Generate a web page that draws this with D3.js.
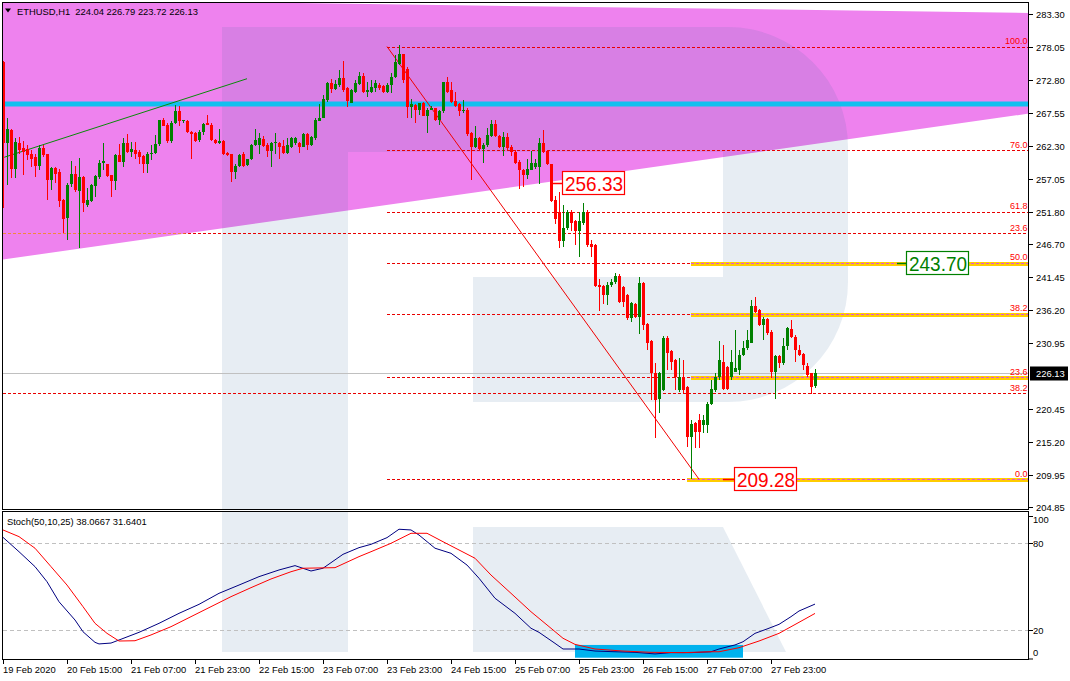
<!DOCTYPE html>
<html><head><meta charset="utf-8">
<script src="https://cdn.jsdelivr.net/npm/d3@7"></script>
<style>
body{margin:0;background:#fff;}
svg{display:block;}
text{font-family:"Liberation Sans",Arial,sans-serif;white-space:pre;}
</style>
</head><body>
<svg id="c" width="1070" height="681"></svg>
<script>
// ---------------- DATA ----------------
const symbolTitle = "ETHUSD,H1  224.04 226.79 223.72 226.13";
const stochTitle = "Stoch(50,10,25) 38.0667 31.6401";

const barOpen = [
275.7,262.7,264.8,258.6,262.7,261.9,261.8,261.0,260.5,259.1,
262.0,261.0,256.9,258.8,258.1,253.7,250.9,256.2,257.8,255.2,
257.4,252.9,253.6,256.0,257.4,259.6,259.4,257.7,256.8,260.9,
259.8,262.7,261.4,261.7,261.4,260.7,259.4,261.1,261.2,262.6,
266.4,265.7,263.1,265.9,267.8,266.2,266.3,264.6,264.4,263.3,
264.6,266.0,265.7,263.3,262.7,263.1,261.2,261.0,258.2,259.1,
261.1,259.3,260.2,262.5,262.4,263.4,262.4,261.5,262.8,262.8,
262.3,261.2,262.2,262.8,262.7,262.2,264.2,262.4,263.5,266.3,
266.8,269.6,272.3,271.3,272.0,273.1,271.6,269.2,270.9,272.2,
273.4,270.9,270.9,271.6,272.0,271.8,270.9,272.0,273.3,275.4,
276.9,274.6,268.5,268.8,268.0,269.2,267.1,268.1,268.3,266.5,
267.8,272.4,271.2,269.5,269.0,267.8,268.0,264.4,262.2,263.5,
261.8,262.4,263.9,265.8,263.9,262.2,263.8,262.2,261.4,259.8,
258.5,257.7,258.5,258.9,258.9,262.7,261.5,259.4,253.7,251.8,
247.1,249.2,251.8,250.3,248.7,250.1,251.8,246.7,246.5,240.2,
240.0,238.6,240.2,240.6,241.6,239.9,238.6,234.9,237.2,235.1,
240.5,233.9,231.2,226.1,222.0,223.5,231.7,229.6,228.2,223.5,
225.6,224.0,216.0,218.2,218.7,217.9,217.9,221.3,223.5,225.6,
228.0,227.2,225.6,226.4,226.6,229.0,230.1,231.0,236.8,236.2,
233.8,234.7,232.7,226.4,228.8,227.7,230.4,233.1,231.9,229.8,
229.2,227.3,226.1,224.04];
const barHigh = [
275.8,266.7,265.0,263.6,263.7,263.1,262.5,261.7,261.1,262.5,
262.5,261.1,259.0,259.0,258.7,253.8,256.4,259.9,259.1,260.4,
257.5,255.6,256.2,257.7,260.1,262.7,259.5,257.7,261.0,262.6,
263.5,264.2,262.9,263.0,261.7,260.9,261.4,262.5,264.0,266.5,
266.7,265.9,266.2,268.8,268.7,266.5,266.5,264.7,264.5,264.8,
266.0,267.3,266.0,263.4,265.0,263.2,261.3,261.1,259.4,261.0,
261.3,260.3,262.6,265.0,264.3,263.9,262.7,263.0,264.4,263.0,
263.3,263.5,263.7,263.7,263.0,264.3,264.3,263.9,266.7,269.0,
270.4,272.5,272.9,272.8,274.4,275.9,271.7,271.3,272.8,274.0,
273.9,272.5,272.8,272.8,272.3,272.0,272.3,273.9,276.8,278.4,
277.0,274.9,269.7,269.0,269.2,269.3,268.4,268.7,268.4,268.0,
272.5,273.2,272.5,270.9,269.1,269.6,268.3,264.6,265.4,263.8,
262.7,265.1,266.5,266.5,264.0,264.6,264.3,262.4,261.7,260.0,
258.6,260.3,261.5,260.2,263.5,264.8,261.6,259.5,254.3,255.0,
252.9,252.1,252.1,250.5,251.8,253.2,252.1,247.4,246.7,241.2,
240.2,240.6,241.2,242.1,242.0,240.0,238.7,237.5,237.3,241.5,
240.7,234.1,231.4,227.7,226.3,232.0,232.0,229.8,228.4,228.5,
228.2,224.1,218.7,218.4,219.7,219.5,221.6,225.1,226.1,231.2,
230.6,227.3,229.8,233.0,229.8,231.2,233.0,237.8,238.3,236.3,
235.1,234.9,233.0,229.0,229.0,231.7,233.5,234.6,232.2,230.6,
229.3,227.7,226.2,226.79];
const barLow = [
252.4,256.1,257.2,257.2,261.1,257.7,260.1,259.0,257.4,258.4,
260.6,253.7,255.3,256.4,252.6,248.4,247.3,255.8,255.0,246.0,
251.8,252.6,253.4,254.2,257.1,258.5,257.4,254.2,255.3,259.7,
259.0,261.2,260.6,260.3,259.5,258.0,258.0,260.1,261.0,262.3,
265.4,262.7,262.8,265.8,265.4,266.0,264.4,260.2,262.9,263.0,
264.0,265.6,263.1,262.6,262.6,260.9,260.7,256.6,257.0,258.9,
258.9,259.1,260.0,262.3,261.1,262.2,260.6,259.0,261.1,260.3,
261.1,261.1,261.9,262.4,261.2,262.1,261.6,262.3,263.3,266.2,
266.7,269.3,270.7,271.2,271.7,270.9,268.5,269.1,270.7,272.0,
270.7,270.1,270.7,270.9,271.2,270.7,270.7,270.7,273.1,275.2,
272.3,266.7,266.8,266.0,267.2,267.0,264.3,268.0,266.3,265.6,
267.5,270.7,269.1,268.5,267.1,267.5,263.9,256.9,261.9,261.5,
259.6,262.2,263.7,263.8,261.9,260.7,261.7,260.7,259.5,255.4,
255.8,257.0,258.4,258.7,256.2,261.2,259.3,253.4,249.9,246.0,
246.3,249.0,248.7,246.5,244.7,249.7,246.3,244.7,239.9,236.1,
237.2,237.0,239.9,240.4,237.3,236.7,234.6,234.3,234.9,232.4,
233.0,229.8,221.9,215.8,219.75,223.3,226.6,226.6,223.5,223.2,
223.0,214.4,209.3,214.2,214.2,216.6,216.6,221.1,223.2,225.1,
223.5,223.5,225.1,226.4,225.9,228.9,229.8,230.9,235.7,233.6,
231.4,232.2,225.3,222.1,226.9,227.4,229.8,231.8,228.0,228.8,
226.6,225.6,222.9,223.72];
const barClose = [
262.7,265.0,258.6,263.0,261.6,261.4,260.9,260.2,259.1,262.0,
260.9,256.9,258.8,257.8,253.5,250.7,256.1,257.8,255.3,257.3,
253.2,253.7,256.1,257.5,259.6,259.9,257.5,256.8,260.9,259.8,
262.7,261.4,261.8,261.1,260.6,259.4,261.1,261.2,262.6,266.4,
265.5,263.1,265.9,267.8,266.2,266.4,264.6,264.2,263.1,264.6,
265.8,265.7,263.3,262.8,263.1,261.0,260.9,258.2,259.1,260.9,
259.1,260.2,262.5,263.3,263.5,262.3,261.5,262.8,262.9,262.2,
261.2,262.4,263.5,263.5,262.2,264.2,262.4,263.8,266.4,266.8,
269.7,272.3,271.3,272.1,273.1,271.2,269.4,271.2,272.3,273.4,
270.9,271.2,271.7,272.3,271.5,270.9,272.0,273.3,275.7,276.9,
272.8,268.5,269.0,268.0,269.1,267.1,268.1,268.4,266.5,267.8,
272.4,270.9,269.3,268.7,267.8,268.1,264.2,262.2,263.5,261.8,
262.4,264.0,265.8,263.9,262.2,263.8,261.9,261.4,259.6,258.4,
257.7,258.6,259.6,259.6,262.7,261.4,259.4,253.6,250.6,247.1,
249.2,251.8,250.1,248.7,250.3,251.8,246.5,246.3,240.0,239.9,
238.6,240.2,240.7,241.6,237.5,237.5,234.9,237.3,235.1,240.5,
233.8,231.0,226.1,221.9,226.1,231.8,229.4,228.0,225.6,225.6,
223.5,216.0,218.05,216.8,216.8,218.7,221.3,223.7,225.6,228.2,
223.7,223.7,228.0,226.9,229.0,230.1,231.4,236.8,235.9,233.8,
234.7,232.5,226.4,228.8,227.7,230.4,233.3,231.9,229.8,229.0,
227.4,225.9,224.0,226.13];

// stochastic (bar index, value)
const stochK = [[0,84.1],[4,74.2],[8,63.9],[11,53.5],[14,39.7],[18,27.1],[20,19.0],[23,11.7],[24,10.6],[27,11.2],[29,13.3],[34,18.6],[39,24.8],[44,31.7],[49,37.9],[54,45.5],[59,51.2],[64,57.0],[69,61.6],[73,64.6],[77,60.9],[80,62.8],[85,72.4],[89,77.0],[92,79.3],[96,83.9],[99,89.7],[102,89.2],[104,85.7],[108,76.6],[112,73.1],[116,65.0],[119,55.9],[123,42.1],[128,31.7],[132,21.4],[134,18.6],[138,11.0],[140,7.1],[144,7.1],[148,5.7],[153,5.2],[158,4.8],[163,3.7],[167,4.6],[172,4.6],[177,5.2],[179,7.1],[183,9.9],[185,12.1],[188,17.9],[191,20.9],[194,24.1],[197,29.4],[199,33.3],[203,38.07]];
const stochD = [[0,89.2],[4,84.6],[8,76.6],[12,63.9],[16,51.2],[20,36.3],[23,24.8],[26,17.9],[29,12.6],[33,12.8],[37,16.8],[42,22.5],[47,29.4],[52,36.3],[57,43.2],[62,49.4],[67,55.4],[72,60.4],[75,62.8],[83,63.2],[89,70.8],[92,74.2],[97,80.0],[102,86.9],[106,86.9],[110,81.1],[114,75.4],[118,69.7],[122,58.1],[127,45.5],[132,32.8],[137,21.4],[140,14.5],[143,10.3],[148,7.1],[155,5.7],[162,4.8],[170,4.6],[177,5.2],[179,5.2],[184,8.0],[189,12.6],[194,17.9],[199,25.5],[203,31.64]];
const stochLevels = [80, 20];
const stochTicks = [100, 80, 20, 0];
const stochBox = [143, 185, 1.1, 9.9];   // bar from, bar to, value low, value high

const priceTicks = [283.30,278.05,272.80,267.55,262.30,257.05,251.80,246.70,241.45,236.20,230.95,220.45,215.20,209.95,204.85];
const lastPrice = 226.13;
const dateLabels = ["19 Feb 2020","20 Feb 15:00","21 Feb 07:00","21 Feb 23:00","22 Feb 15:00","23 Feb 07:00","23 Feb 23:00","24 Feb 15:00","25 Feb 07:00","25 Feb 23:00","26 Feb 15:00","27 Feb 07:00","27 Feb 23:00"];
const dateLabelBars = [0,16,32,48,64,80,96,112,128,144,160,176,192];

// chart objects (bar index, price)
const pinkTriangle = [[0,285.69],[256.5,283.46],[256.5,267.46],[0,244.23]];
const blueLevel = 268.98;
const greenTrend = [[0.3,260.5],[61,273.0]];
const fibHigh = 278.12, fibLow = 209.28;
const fibStartBar = 96, fibEndBar = 174;
const fibRatios = [100.0, 76.0, 61.8, 50.0, 38.2, 23.6, 0.0];
const fib2Labels = ["23.6","38.2"];
const fib2Prices = [248.45, 222.99];
const yellowRatios = [50.0, 38.2, 23.6, 0.0];
const yellowStartBars = [172, 172, 172, 171];
const boxTexts = ["256.33","243.70","209.28"];
const boxPrices = [256.33, 243.70, 209.28];
const boxBars = [139.75, 225.75, 182.75];
const boxLineBars = [137, 223.5, 180];
const boxColors = ["#ff0000","#008000","#ff0000"];

// ---------------- DRAW ----------------
const svg = d3.select("#c");
const X0 = 3, X1 = 1029, MT = 3, MB = 509, ST = 512, SB = 659;
const x = d3.scaleLinear().domain([0, 256.5]).range([X0, X1]);
const y = d3.scaleLinear().domain([204.85, 283.30]).range([507, 14]);
const ys = d3.scaleLinear().domain([0, 100]).range([659.3, 514.3]);
const fibPrice = r => fibLow + r / 100 * (fibHigh - fibLow);

const defs = svg.append("defs");
defs.append("clipPath").attr("id","cm").append("rect").attr("x",X0).attr("y",MT).attr("width",X1-X0).attr("height",MB-MT);
defs.append("clipPath").attr("id","cs").append("rect").attr("x",X0).attr("y",ST).attr("width",X1-X0).attr("height",SB-ST);
defs.append("clipPath").attr("id","ctri").append("polygon")
  .attr("points", pinkTriangle.map(p => [x(p[0]), y(p[1])].join(",")).join(" "));

svg.append("rect").attr("width",1070).attr("height",681).attr("fill","#fff");

const gm = svg.append("g").attr("clip-path","url(#cm)");
const gs = svg.append("g").attr("clip-path","url(#cs)");

// pink triangle
gm.append("polygon").attr("points", pinkTriangle.map(p => [x(p[0]), y(p[1])].join(",")).join(" "))
  .attr("fill","#ee82ee");

// watermark (decorative)
const wm = "rgba(60,110,160,0.12)";
gm.append("path").attr("fill", wm)
  .attr("d","M222,27 L728,27 A120,120 0 0 1 848,147 L848,282 A120,120 0 0 1 728,402 L473,402 L473,277 L723,277 L723,152 L348,152 L348,509 L222,509 Z");
gs.append("rect").attr("x",222).attr("y",512).attr("width",126).attr("height",140).attr("fill",wm);
gs.append("polygon").attr("points","473,527 723,527 786,652 473,652").attr("fill",wm);

// blue horizontal level
gm.append("line").attr("x1",X0).attr("x2",X1).attr("y1",y(blueLevel)).attr("y2",y(blueLevel))
  .attr("stroke","#12bfef").attr("stroke-width",5);

// current price line
gm.append("line").attr("x1",X0).attr("x2",X1).attr("y1",Math.round(y(lastPrice))+0.5).attr("y2",Math.round(y(lastPrice))+0.5)
  .attr("stroke","#c0c0c0").attr("stroke-width",1);

// fib levels (set 1)
const fibRed = "#e80000";
fibRatios.forEach(r => {
  const yy = Math.round(y(fibPrice(r))) + 0.5;
  gm.append("line").attr("x1",x(fibStartBar)).attr("x2",X1).attr("y1",yy).attr("y2",yy)
    .attr("stroke",fibRed).attr("stroke-dasharray","3,2");
});
// fib set 2
fib2Prices.forEach(p => {
  const yy = Math.round(y(p)) + 0.5;
  gm.append("line").attr("x1",X0).attr("x2",X1).attr("y1",yy).attr("y2",yy)
    .attr("stroke",fibRed).attr("stroke-dasharray","3,2");
  gm.append("line").attr("x1",X0).attr("x2",X1).attr("y1",yy).attr("y2",yy)
    .attr("stroke","#f08a3c").attr("stroke-dasharray","3,2").attr("clip-path","url(#ctri)");
});
// yellow highlighted levels
yellowRatios.forEach((r,k) => {
  const yy = Math.round(y(fibPrice(r))) + 0.5;
  gm.append("rect").attr("x",x(yellowStartBars[k])).attr("width",X1-x(yellowStartBars[k]))
    .attr("y",yy-2).attr("height",4).attr("fill","#ffcc00").attr("shape-rendering","crispEdges");
  gm.append("line").attr("x1",x(yellowStartBars[k])).attr("x2",X1).attr("y1",yy).attr("y2",yy)
    .attr("stroke","#e050e0").attr("stroke-dasharray","3,2").attr("shape-rendering","crispEdges");
});

// green trend line
gm.append("line").attr("x1",x(greenTrend[0][0])).attr("y1",y(greenTrend[0][1]))
  .attr("x2",x(greenTrend[1][0])).attr("y2",y(greenTrend[1][1]))
  .attr("stroke","#0a8a0a").attr("stroke-width",1);
// red diagonal of fib
gm.append("line").attr("x1",x(fibStartBar)).attr("y1",y(fibHigh))
  .attr("x2",x(fibEndBar)).attr("y2",y(fibLow))
  .attr("stroke","#f00000").attr("stroke-width",1);

// candles
const bars = d3.range(barOpen.length);
const cg = gm.append("g").attr("shape-rendering","crispEdges");
cg.selectAll(".wick").data(bars).join("rect")
  .attr("x", i => Math.round(x(i)))
  .attr("width",1)
  .attr("y", i => Math.round(y(barHigh[i])))
  .attr("height", i => Math.max(1, Math.round(y(barLow[i])) - Math.round(y(barHigh[i]))))
  .attr("fill", i => barClose[i] >= barOpen[i] ? "#008000" : "#ff0000");
cg.selectAll(".body").data(bars).join("rect")
  .attr("x", i => Math.round(x(i)) - 1)
  .attr("width",3)
  .attr("y", i => Math.round(y(Math.max(barOpen[i],barClose[i]))))
  .attr("height", i => Math.max(1, Math.round(y(Math.min(barOpen[i],barClose[i]))) - Math.round(y(Math.max(barOpen[i],barClose[i])))))
  .attr("fill", i => barClose[i] >= barOpen[i] ? "#008000" : "#ff0000");

// fib labels
fibRatios.forEach(r => {
  gm.append("text").attr("x",1027.5).attr("y",y(fibPrice(r)) - 2.5).attr("text-anchor","end")
    .attr("font-size","9px").attr("fill","#ff0000").text(r.toFixed(1));
});
fib2Prices.forEach((p,k) => {
  gm.append("text").attr("x",1027.5).attr("y",y(p) - 2.5).attr("text-anchor","end")
    .attr("font-size","9px").attr("fill","#ff0000").text(fib2Labels[k]);
});

// boxed price labels
boxTexts.forEach((t,k) => {
  const yy = Math.round(y(boxPrices[k]));
  const bx = Math.round(x(boxBars[k]));
  gm.append("line").attr("x1",x(boxLineBars[k])).attr("x2",bx).attr("y1",yy+0.5).attr("y2",yy+0.5)
    .attr("stroke",boxColors[k]).attr("stroke-width",1.5);
  gm.append("rect").attr("x",bx+0.5).attr("y",yy-11.5).attr("width",62).attr("height",23)
    .attr("fill","#fff").attr("stroke",boxColors[k]).attr("stroke-width",1.2);
  gm.append("text").attr("x",bx+3).attr("y",yy+8).attr("font-size","21px")
    .attr("textLength",58).attr("lengthAdjust","spacingAndGlyphs")
    .attr("fill",boxColors[k]).text(t);
});

// stochastic
stochLevels.forEach(v => {
  gs.append("line").attr("x1",X0).attr("x2",X1).attr("y1",Math.round(ys(v))+0.5).attr("y2",Math.round(ys(v))+0.5)
    .attr("stroke","#c0c0c0").attr("stroke-dasharray","4,3");
});
gs.append("rect").attr("x",x(stochBox[0])).attr("width",x(stochBox[1])-x(stochBox[0]))
  .attr("y",ys(stochBox[3])).attr("height",ys(stochBox[2])-ys(stochBox[3])).attr("fill","#00b2ee");
const sline = d3.line().x(d => x(d[0])).y(d => ys(d[1]));
gs.append("path").datum(stochK).attr("d",sline).attr("fill","none").attr("stroke","#000080").attr("stroke-width",1);
gs.append("path").datum(stochD).attr("d",sline).attr("fill","none").attr("stroke","#ff0000").attr("stroke-width",1);

// frames
svg.append("rect").attr("x",2.5).attr("y",2.5).attr("width",1026).attr("height",507).attr("fill","none").attr("stroke","#000");
svg.append("rect").attr("x",2.5).attr("y",511.5).attr("width",1026).attr("height",148).attr("fill","none").attr("stroke","#000");

// price axis
const fs = "9.4px";
priceTicks.forEach(p => {
  const yy = Math.round(y(p)) + 0.5;
  svg.append("line").attr("x1",1029).attr("x2",1033).attr("y1",yy).attr("y2",yy).attr("stroke","#000");
  svg.append("text").attr("x",1036).attr("y",yy).attr("dy","0.35em").attr("font-size",fs).attr("fill","#000").text(p.toFixed(2));
});
{
  const yy = Math.round(y(lastPrice)) + 0.5;
  svg.append("rect").attr("x",1030).attr("y",yy-7).attr("width",38).attr("height",14).attr("fill","#000");
  svg.append("text").attr("x",1036).attr("y",yy).attr("dy","0.35em").attr("font-size",fs).attr("fill","#fff").text(lastPrice.toFixed(2));
}
// stoch axis
stochTicks.forEach(v => {
  const yy = Math.min(659, Math.max(516.5, Math.round(ys(v)) + 0.5));
  const ly = Math.min(652.5, Math.max(519.5, yy));
  svg.append("line").attr("x1",1029).attr("x2",1033).attr("y1",yy).attr("y2",yy).attr("stroke","#000");
  svg.append("text").attr("x",1033).attr("y",ly).attr("dy","0.35em").attr("font-size",fs).attr("fill","#000").text(v);
});

// time axis
dateLabels.forEach((t,k) => {
  const xx = Math.round(x(dateLabelBars[k])) + 0.5;
  svg.append("line").attr("x1",xx).attr("x2",xx).attr("y1",660).attr("y2",664).attr("stroke","#000");
  svg.append("text").attr("x",xx-0.5).attr("y",673).attr("font-size",fs).attr("fill","#000").text(t);
});

// titles
svg.append("polygon").attr("points","5,8.5 11,8.5 8,12.5").attr("fill","#000");
svg.append("text").attr("x",17).attr("y",14.5).attr("font-size",fs).attr("fill","#000").text(symbolTitle);
svg.append("text").attr("x",7).attr("y",525).attr("font-size",fs).attr("fill","#000").text(stochTitle);
</script>
</body></html>
